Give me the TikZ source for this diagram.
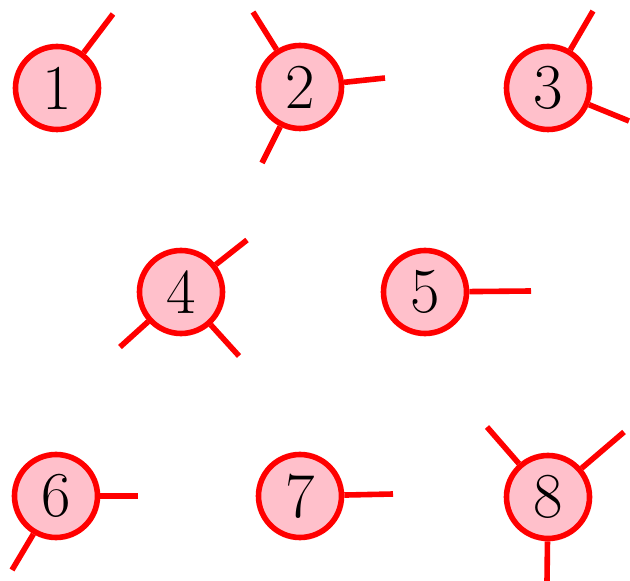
\documentclass[tikz,border=0pt]{standalone}
\usepackage{xcolor}
\usepackage{tikz}
\usetikzlibrary{calc}
\definecolor{vtxRed}{RGB}{255,0,0}
\definecolor{vtxPink}{RGB}{255,192,203}

\begin{document}
\begin{tikzpicture}[
  x=0.5pt, y=-0.5pt,
  vtx/.style={circle, draw=vtxRed, line width=2.8pt, fill=vtxPink,
              inner sep=0pt, minimum size=41.5pt,
              font=\fontsize{32}{32}\selectfont},
  leg/.style={draw=vtxRed, line width=2.8pt},
]
\useasboundingbox (0,0) rectangle (630,581);

% Vertices
\node[vtx] (v1) at (57, 88) {1};
\node[vtx] (v2) at (300, 87) {2};
\node[vtx] (v3) at (548, 88) {3};
\node[vtx] (v4) at (181, 292) {4};
\node[vtx] (v5) at (425, 292) {5};
\node[vtx] (v6) at (56, 496) {6};
\node[vtx] (v7) at (300, 496) {7};
\node[vtx] (v8) at (548, 497) {8};

% Free ends of the legs
\coordinate (e1a) at (113, 14);
\coordinate (e2a) at (253, 12);
\coordinate (e2b) at (385, 78);
\coordinate (e2c) at (262, 163);
\coordinate (e3a) at (593, 11);
\coordinate (e3b) at (629, 121);
\coordinate (e4a) at (247, 240);
\coordinate (e4b) at (120, 347);
\coordinate (e4c) at (239, 356);
\coordinate (e5a) at (531, 291);
\coordinate (e6a) at (138, 496);
\coordinate (e6b) at (12, 570);
\coordinate (e7a) at (393, 494);
\coordinate (e8a) at (487, 427);
\coordinate (e8b) at (624, 432);
\coordinate (e8c) at (547, 581);

% Legs
\draw[leg] (v1) -- (e1a);
\draw[leg] (v2) -- (e2a);
\draw[leg] (v2) -- (e2b);
\draw[leg] (v2) -- (e2c);
\draw[leg] (v3) -- (e3a);
\draw[leg] (v3) -- (e3b);
\draw[leg] (v4) -- (e4a);
\draw[leg] (v4) -- (e4b);
\draw[leg] (v4) -- (e4c);
\draw[leg] (v5) -- (e5a);
\draw[leg] (v6) -- (e6a);
\draw[leg] (v6) -- (e6b);
\draw[leg] (v7) -- (e7a);
\draw[leg] (v8) -- (e8a);
\draw[leg] (v8) -- (e8b);
\draw[leg] (v8) -- (e8c);

\end{tikzpicture}
\end{document}
